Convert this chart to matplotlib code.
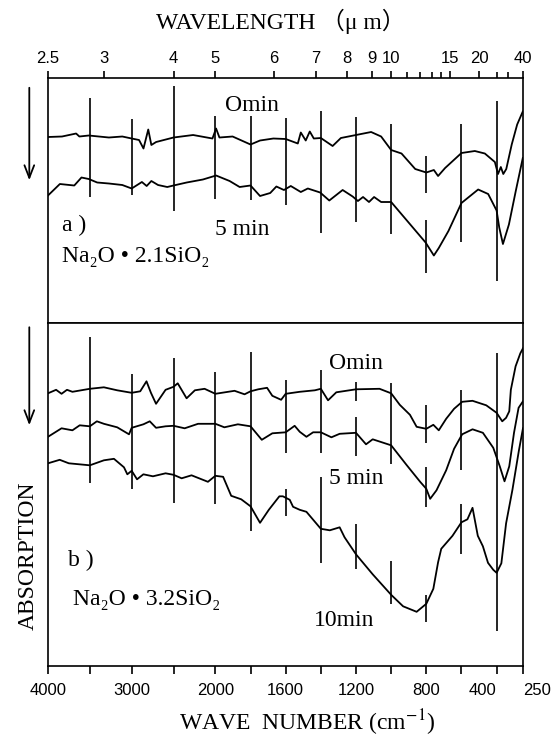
import numpy as np
import matplotlib
matplotlib.use('Agg')
import matplotlib.pyplot as plt

plt.rcParams['font.family'] = ['Liberation Serif', 'DejaVu Serif', 'Noto Sans CJK JP']
plt.rcParams['mathtext.fontset'] = 'stix'

# --- panel a) Na2O.2.1SiO2 : wavenumber (cm-1) / absorption (arb., grows downward)
a0_wn = [4000, 3832, 3664, 3625, 3513, 3272, 3112, 3000, 2912, 2859, 2802, 2765, 2708, 2500, 2266,
         2035, 1996, 1977, 1902, 1800, 1746, 1670, 1600, 1531, 1514, 1486, 1463, 1440, 1400, 1333,
         1286, 1200, 1114, 1057, 1000, 941, 863, 800, 757, 733, 693, 600, 524, 467, 410,
         392, 376, 362, 345, 314, 283, 251]
a0_ab = [59.5, 59, 56, 59, 58, 60, 59, 61, 62.5, 71, 52, 67.5, 64.5, 60, 57.5,
         61, 51, 60, 59, 67, 63, 61, 61.5, 66, 55, 63, 54, 61, 60.5, 68.5,
         60.5, 57.5, 54.5, 59, 72.5, 76, 91.5, 95, 92.5, 98.5, 90.5, 75.5, 73.5, 76, 84.5,
         96.5, 89.5, 96.5, 91.5, 67, 47, 34]

a5_wn = [4000, 3858, 3686, 3600, 3513, 3412, 3272, 3112, 3000, 2878, 2821, 2765, 2685, 2575, 2500,
         2343, 2149, 1996, 1919, 1862, 1800, 1746, 1688, 1653, 1610, 1571, 1514, 1474, 1404, 1352,
         1276, 1219, 1189, 1160, 1126, 1097, 1057, 1000, 804, 757, 729, 674, 600, 505, 448,
         400, 385, 364, 330, 291, 251]
a5_ab = [118, 106.5, 108, 100, 101.5, 105, 106, 107.5, 111, 104.5, 108.5, 103.5, 107.5, 109.5, 108,
         105, 102, 98, 103.5, 109.5, 108, 118.5, 115.5, 109, 112.5, 108.5, 114.5, 111, 115, 123,
         112.5, 119, 123.5, 119.5, 124.5, 119.5, 124.5, 124.5, 165, 178, 170.5, 153.5, 125.5, 112, 116.5,
         133, 150, 166.5, 147, 113.5, 80.5]

# --- panel b) Na2O.3.2SiO2
b0_wn = [4000, 3903, 3838, 3773, 3708, 3500, 3332, 3173, 3000, 2898, 2823, 2770, 2709, 2595, 2500,
         2450, 2344, 2245, 2129, 2000, 1891, 1834, 1800, 1756, 1706, 1676, 1626, 1600, 1520, 1434,
         1400, 1359, 1312, 1200, 1066, 1000, 951, 893, 855, 800, 760, 729, 687, 642, 596,
         537, 459, 400, 368, 346, 328, 319, 292, 265, 250]
b0_ab = [70, 66.5, 70.5, 66.5, 68.5, 65.5, 64, 67, 69.5, 68, 58, 69.5, 80.5, 66.5, 63.5,
         60, 75, 67, 65.5, 70.5, 67.5, 71, 68, 66, 64.5, 72.5, 76.5, 70.5, 68.5, 67,
         65.5, 77, 69, 66, 65.5, 70, 81.5, 91.5, 103.5, 105.5, 101.5, 107, 95.5, 85.5, 78.5,
         77.5, 82, 89.5, 98, 94.5, 88, 66.5, 43, 30, 25]

b5_wn = [4000, 3838, 3708, 3621, 3500, 3416, 3332, 3173, 3032, 3000, 2860, 2784, 2709, 2595, 2500,
         2367, 2207, 2000, 1949, 1872, 1800, 1736, 1676, 1600, 1549, 1520, 1482, 1444, 1400, 1340,
         1293, 1200, 1143, 1105, 1000, 913, 835, 800, 778, 742, 687, 642, 596, 537, 478,
         419, 382, 355, 328, 301, 275, 250]
b5_ab = [113.5, 105, 107, 102, 103, 98, 100.5, 104, 111, 104.5, 101, 98, 104.5, 103, 102.5,
         105, 100.5, 100.5, 104, 101, 103, 116.5, 110, 109, 102.5, 108.5, 113.5, 109, 109, 114,
         110.5, 109.5, 121, 116, 122, 141.5, 158.5, 165.5, 175.5, 167, 147, 125.5, 111, 106, 109.5,
         124.5, 143, 158, 143, 109.5, 84.5, 78]

b10_wn = [4000, 3860, 3751, 3500, 3332, 3212, 3092, 3052, 3000, 2936, 2860, 2746, 2595, 2500, 2403,
          2285, 2089, 2000, 1956, 1910, 1853, 1800, 1746, 1696, 1636, 1616, 1577, 1558, 1520, 1482,
          1400, 1349, 1293, 1265, 1200, 1105, 1000, 932, 855, 800, 760, 733, 715, 651, 600,
          566, 537, 507, 478, 449, 419, 400, 373, 346, 310, 273, 250]
b10_ab = [140, 136.5, 140, 142, 137, 135.5, 144, 151, 147.5, 156, 151, 153, 150, 151.5, 155,
          152, 158.5, 152.5, 153.5, 172.5, 176, 183, 199.5, 186.5, 173, 173, 176.5, 183.5, 186.5, 188.5,
          205.5, 207, 204, 214, 231, 251, 271.5, 283, 288.5, 280.5, 265.5, 239, 225.5, 212.5, 199,
          196, 184.5, 212.5, 223, 239.5, 246.5, 249.5, 240, 200, 166.5, 127, 105]

# recorder marks (wavenumber, start, end of each mark)
mk_a_wn = [3500, 3000, 2500, 2000, 1800, 1600, 1400, 1200, 1000, 800, 800, 600, 400]
mk_a_lo = [20, 41, 8, 38, 38, 40, 33, 39, 46, 78, 142, 46, 23]
mk_a_hi = [119, 117, 133, 121, 122, 127, 155, 144, 156, 115, 195, 164, 203]

mk_b_wn = [3500, 3000, 2500, 2000, 1800, 1600, 1600, 1400, 1400, 1200, 1200, 1200, 1000, 1000,
           800, 800, 800, 600, 600, 400]
mk_b_lo = [14, 51, 35, 49, 29, 57, 166, 47, 154, 59, 94, 201, 60, 238, 82, 144, 272, 67, 181, 30]
mk_b_hi = [160, 166, 180, 181, 208, 130, 193, 130, 240, 78, 133, 246, 141, 281, 120, 184, 299, 147, 231, 308]

wn_ticks = [4000, 3500, 3000, 2500, 2000, 1800, 1600, 1400, 1200, 1000, 800, 600, 400, 250]
wn_labels = ['4000', '', '3000', '', '2000', '', '1600', '', '1200', '', '800', '', '400', '250']
wl_major = [2.5, 3, 4, 5, 6, 7, 8, 9, 10, 15, 20, 40]
wl_minor = [11, 12, 13, 14, 25, 30]


# grating spectrometer chart: 4000-2000 at single scale, below 2000 expanded
def fwd(w):
    w = np.asarray(w, dtype=float)
    return np.where(w >= 2000, w - 4000, -2000 - 2.1 * (2000 - w))


def inv(u):
    u = np.asarray(u, dtype=float)
    return np.where(u >= -2000, u + 4000, 2000 - (-u - 2000) / 2.1)


fig = plt.figure(figsize=(5.56, 7.41), dpi=100)
ax1 = fig.add_axes([0.0863, 0.5637, 0.8543, 0.3317])
ax2 = fig.add_axes([0.0863, 0.1012, 0.8543, 0.4625])

for ax, hmax in ((ax1, 245.8), (ax2, 342.7)):
    ax.set_xscale('function', functions=(fwd, inv))
    ax.set_xlim(4000, 250)
    ax.set_ylim(hmax, 0)
    ax.set_yticks([])
    for s in ax.spines.values():
        s.set_linewidth(1.2)

lw = 1.3
ax1.plot(a0_wn, a0_ab, color='black', lw=lw)
ax1.plot(a5_wn, a5_ab, color='black', lw=lw)
ax1.vlines(mk_a_wn, mk_a_lo, mk_a_hi, color='black', lw=1.2)

ax2.plot(b0_wn, b0_ab, color='black', lw=lw)
ax2.plot(b5_wn, b5_ab, color='black', lw=lw)
ax2.plot(b10_wn, b10_ab, color='black', lw=lw)
ax2.vlines(mk_b_wn, mk_b_lo, mk_b_hi, color='black', lw=1.2)

# top axis: wavelength
ax1.xaxis.tick_top()
ax1.set_xticks([1e4 / l for l in wl_major])
ax1.set_xticklabels([f'{l:g}' for l in wl_major], family='Liberation Sans', fontsize=12)
ax1.set_xticks([1e4 / l for l in wl_minor], minor=True)
ax1.tick_params(axis='x', which='both', direction='out', length=5, width=1.2, pad=3)
ax1.tick_params(axis='x', which='minor', length=4)

# bottom axis: wavenumber
ax2.set_xticks(wn_ticks)
ax2.set_xticklabels(wn_labels, family='Liberation Sans', fontsize=12)
ax2.xaxis.set_minor_locator(matplotlib.ticker.NullLocator())
ax2.tick_params(axis='x', direction='out', length=6, width=1.2, pad=6)
tls = ax2.get_xticklabels()
tls[-2].set_ha('right')   # 400 sits left of its tick
tls[-1].set_ha('left')    # 250 sits right of the frame

# curve labels
fs = 17
tk = dict(fontsize=fs, ha='center', va='center')
tl = dict(fontsize=fs, ha='left', va='center')
ax1.text(0.429, 0.887, 'Omin', transform=ax1.transAxes, **tk)
ax1.text(0.408, 0.383, '5 min', transform=ax1.transAxes, **tk)
ax1.text(0.03, 0.40, 'a )', transform=ax1.transAxes, **tl)
ax1.text(0.03, 0.273, 'Na₂O • 2.1SiO₂', transform=ax1.transAxes, **tl)

ax2.text(0.648, 0.884, 'Omin', transform=ax2.transAxes, **tk)
ax2.text(0.648, 0.546, '5 min', transform=ax2.transAxes, **tk)
ax2.text(0.623, 0.132, '10min', transform=ax2.transAxes, **tk)
ax2.text(0.042, 0.307, 'b )', transform=ax2.transAxes, **tl)
ax2.text(0.053, 0.193, 'Na₂O • 3.2SiO₂', transform=ax2.transAxes, **tl)

# axis titles
fig.text(0.505, 0.9717, 'WAVELENGTH （μ m）', fontsize=17, ha='center', va='center')
fig.text(0.552, 0.024, 'WAVE  NUMBER (cm$^{-1}$)', fontsize=17, ha='center', va='center')
fig.text(0.0504, 0.2497, 'ABSORPTION', fontsize=17, rotation=90, ha='center', va='center')

# absorption direction arrows
arr = dict(arrowstyle='->,head_length=0.9,head_width=0.35', color='black', lw=1.3)
ax1.annotate('', xy=(0.0527, 0.753), xytext=(0.0527, 0.8853),
             xycoords='figure fraction', textcoords='figure fraction',
             arrowprops=arr, annotation_clip=False)
ax2.annotate('', xy=(0.0527, 0.4224), xytext=(0.0527, 0.5621),
             xycoords='figure fraction', textcoords='figure fraction',
             arrowprops=arr, annotation_clip=False)

plt.savefig('out.png', dpi=100)
